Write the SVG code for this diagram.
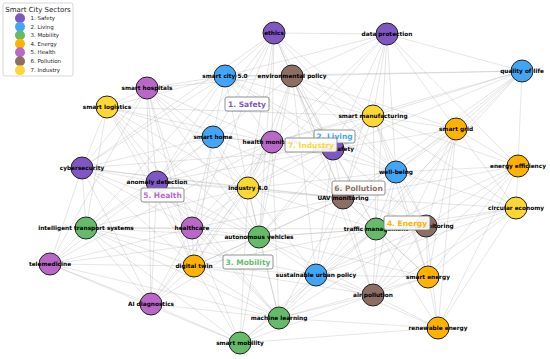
<svg xmlns="http://www.w3.org/2000/svg" width="550" height="359" viewBox="0 0 550 359">
<style>
.e{fill:none;stroke:#9a9a9a;stroke-opacity:0.35;stroke-width:0.7}
.n{stroke:#222;stroke-width:1}
.lb{font-family:"DejaVu Sans",sans-serif;font-weight:bold;font-size:5.8px;fill:#000;text-anchor:middle;dominant-baseline:central}
.s1{fill:#7E57C2}.s2{fill:#42A5F5}.s3{fill:#66BB6A}.s4{fill:#FFB300}.s5{fill:#BA68C8}.s6{fill:#8D6E63}.s7{fill:#FDD835}
.cb{fill:#fff;fill-opacity:0.92;stroke:#777;stroke-width:0.8}
.ct{font-family:"DejaVu Sans",sans-serif;font-weight:bold;font-size:7.5px;text-anchor:middle;dominant-baseline:central}
.lt{font-family:"DejaVu Sans",sans-serif;font-size:5.5px;fill:#222;dominant-baseline:central}
</style>
<rect width="550" height="359" fill="#fff"/>
<g id="connectors">
<path class="e" d="M274 33L387 34M274 33L225 76M274 33L292 76M274 33L213 137M274 33L272 142M274 33L333 149M274 33L248 188M274 33L343 198M274 33L396 172M274 33L373 116M274 33L157 182M274 33L82 168M274 33L259 237M274 33L192 228"/>
<path class="e" d="M387 34L522 71M387 34L373 116M387 34L292 76M387 34L225 76M387 34L333 149M387 34L396 172M387 34L518 166M387 34L343 198M387 34L376 229M387 34L272 142M387 34L456 129M387 34L248 188"/>
<path class="e" d="M522 71L292 76M522 71L373 116M522 71L456 129M522 71L396 172M522 71L518 166M522 71L333 149M522 71L376 229M522 71L343 198M522 71L225 76M522 71L272 142M522 71L316 275"/>
<path class="e" d="M225 76L292 76M225 76L147 88M225 76L107 107M225 76L213 137M225 76L272 142M225 76L333 149M225 76L157 182M225 76L248 188M225 76L82 168M225 76L373 116M225 76L396 172M225 76L86 228"/>
<path class="e" d="M292 76L147 88M292 76L373 116M292 76L456 129M292 76L213 137M292 76L272 142M292 76L333 149M292 76L343 198M292 76L396 172M292 76L373 295M292 76L376 229M292 76L248 188M292 76L259 237M292 76L316 275"/>
<path class="e" d="M147 88L107 107M147 88L213 137M147 88L272 142M147 88L192 228M147 88L157 182M147 88L151 304M147 88L50 264M147 88L82 168M147 88L248 188M147 88L194 266M147 88L259 237"/>
<path class="e" d="M107 107L213 137M107 107L82 168M107 107L157 182M107 107L248 188M107 107L86 228M107 107L272 142M107 107L259 237M107 107L194 266M107 107L373 116M107 107L279 318"/>
<path class="e" d="M373 116L456 129M373 116L333 149M373 116L396 172M373 116L248 188M373 116L343 198M373 116L272 142M373 116L376 229M373 116L518 166M373 116L516 208M373 116L426 226M373 116L259 237M373 116L428 277"/>
<path class="e" d="M456 129L396 172M456 129L518 166M456 129L516 208M456 129L428 277M456 129L438 328M456 129L376 229M456 129L426 226M456 129L333 149M456 129L343 198M456 129L373 295"/>
<path class="e" d="M213 137L272 142M213 137L82 168M213 137L157 182M213 137L248 188M213 137L259 237M213 137L192 228M213 137L86 228M213 137L333 149M213 137L194 266M213 137L343 198"/>
<path class="e" d="M272 142L333 149M272 142L157 182M272 142L248 188M272 142L192 228M272 142L151 304M272 142L50 264M272 142L343 198M272 142L259 237M272 142L194 266M272 142L396 172M272 142L279 318"/>
<path class="e" d="M333 149L396 172M333 149L343 198M333 149L248 188M333 149L376 229M333 149L157 182M333 149L259 237M333 149L82 168M333 149L426 226M333 149L316 275"/>
<path class="e" d="M82 168L157 182M82 168L86 228M82 168L50 264M82 168L192 228M82 168L151 304M82 168L248 188M82 168L259 237M82 168L194 266M82 168L343 198"/>
<path class="e" d="M396 172L518 166M396 172L343 198M396 172L376 229M396 172L426 226M396 172L516 208M396 172L428 277M396 172L316 275M396 172L373 295M396 172L248 188"/>
<path class="e" d="M518 166L516 208M518 166L428 277M518 166L438 328M518 166L376 229M518 166L426 226M518 166L343 198M518 166L373 295"/>
<path class="e" d="M157 182L248 188M157 182L192 228M157 182L86 228M157 182L50 264M157 182L151 304M157 182L259 237M157 182L194 266M157 182L343 198M157 182L279 318"/>
<path class="e" d="M248 188L343 198M248 188L192 228M248 188L259 237M248 188L194 266M248 188L376 229M248 188L316 275M248 188L279 318M248 188L86 228M248 188L151 304M248 188L240 343"/>
<path class="e" d="M343 198L376 229M343 198L426 226M343 198L259 237M343 198L316 275M343 198L373 295M343 198L279 318M343 198L428 277M343 198L516 208M343 198L194 266M343 198L192 228"/>
<path class="e" d="M516 208L376 229M516 208L426 226M516 208L428 277M516 208L438 328M516 208L373 295M516 208L316 275"/>
<path class="e" d="M86 228L192 228M86 228L50 264M86 228L194 266M86 228L151 304M86 228L259 237M86 228L279 318M86 228L240 343M86 228L376 229M86 228L316 275"/>
<path class="e" d="M192 228L50 264M192 228L151 304M192 228L194 266M192 228L259 237M192 228L279 318M192 228L240 343"/>
<path class="e" d="M376 229L426 226M376 229L259 237M376 229L316 275M376 229L428 277M376 229L373 295M376 229L438 328M376 229L279 318M376 229L240 343M376 229L194 266"/>
<path class="e" d="M426 226L428 277M426 226L373 295M426 226L438 328M426 226L316 275M426 226L259 237M426 226L279 318"/>
<path class="e" d="M259 237L194 266M259 237L316 275M259 237L279 318M259 237L240 343M259 237L151 304M259 237L428 277M259 237L373 295M259 237L50 264"/>
<path class="e" d="M50 264L151 304M50 264L194 266M50 264L279 318M50 264L240 343"/>
<path class="e" d="M194 266L151 304M194 266L279 318M194 266L240 343M194 266L316 275M194 266L373 295"/>
<path class="e" d="M316 275L373 295M316 275L279 318M316 275L240 343M316 275L428 277M316 275L438 328"/>
<path class="e" d="M428 277L438 328M428 277L373 295M428 277L279 318"/>
<path class="e" d="M373 295L438 328M373 295L279 318M373 295L240 343"/>
<path class="e" d="M151 304L279 318M151 304L240 343"/>
<path class="e" d="M279 318L240 343M279 318L438 328M240 343L438 328"/>
</g>
<g id="nodes">
<g id="n-ethics"><circle class="n s1" cx="274" cy="33" r="11"/><text class="lb" x="274" y="33">ethics</text></g>
<g id="n-data-protection"><circle class="n s1" cx="387" cy="34" r="11"/><text class="lb" x="387" y="34">data protection</text></g>
<g id="n-quality-of-life"><circle class="n s2" cx="522" cy="71" r="11"/><text class="lb" x="522" y="71">quality of life</text></g>
<g id="n-smart-city-5"><circle class="n s2" cx="225" cy="76" r="11"/><text class="lb" x="225" y="76">smart city 5.0</text></g>
<g id="n-environmental-policy"><circle class="n s6" cx="292" cy="76" r="11"/><text class="lb" x="292" y="76">environmental policy</text></g>
<g id="n-smart-hospitals"><circle class="n s5" cx="147" cy="88" r="11"/><text class="lb" x="147" y="88">smart hospitals</text></g>
<g id="n-smart-logistics"><circle class="n s7" cx="107" cy="107" r="11"/><text class="lb" x="107" y="107">smart logistics</text></g>
<g id="n-smart-manufacturing"><circle class="n s7" cx="373" cy="116" r="11"/><text class="lb" x="373" y="116">smart manufacturing</text></g>
<g id="n-smart-grid"><circle class="n s4" cx="456" cy="129" r="11"/><text class="lb" x="456" y="129">smart grid</text></g>
<g id="n-smart-home"><circle class="n s2" cx="213" cy="137" r="11"/><text class="lb" x="213" y="137">smart home</text></g>
<g id="n-health-monitoring"><circle class="n s5" cx="272" cy="142" r="11"/><text class="lb" x="272" y="142">health monitoring</text></g>
<g id="n-public-safety"><circle class="n s1" cx="333" cy="149" r="11"/><text class="lb" x="333" y="149">public safety</text></g>
<g id="n-cybersecurity"><circle class="n s1" cx="82" cy="168" r="11"/><text class="lb" x="82" y="168">cybersecurity</text></g>
<g id="n-well-being"><circle class="n s2" cx="396" cy="172" r="11"/><text class="lb" x="396" y="172">well-being</text></g>
<g id="n-energy-efficiency"><circle class="n s4" cx="518" cy="166" r="11"/><text class="lb" x="518" y="166">energy efficiency</text></g>
<g id="n-anomaly-detection"><circle class="n s1" cx="157" cy="182" r="11"/><text class="lb" x="157" y="182">anomaly detection</text></g>
<g id="n-industry-4"><circle class="n s7" cx="248" cy="188" r="11"/><text class="lb" x="248" y="188">industry 4.0</text></g>
<g id="n-uav-monitoring"><circle class="n s6" cx="343" cy="198" r="11"/><text class="lb" x="343" y="198">UAV monitoring</text></g>
<g id="n-circular-economy"><circle class="n s7" cx="516" cy="208" r="11"/><text class="lb" x="516" y="208">circular economy</text></g>
<g id="n-its"><circle class="n s3" cx="86" cy="228" r="11"/><text class="lb" x="86" y="228">intelligent transport systems</text></g>
<g id="n-healthcare"><circle class="n s5" cx="192" cy="228" r="11"/><text class="lb" x="192" y="228">healthcare</text></g>
<g id="n-traffic-management"><circle class="n s3" cx="376" cy="229" r="11"/><text class="lb" x="376" y="229">traffic management</text></g>
<g id="n-noise-monitoring"><circle class="n s6" cx="426" cy="226" r="11"/><text class="lb" x="426" y="226">noise monitoring</text></g>
<g id="n-autonomous-vehicles"><circle class="n s3" cx="259" cy="237" r="11"/><text class="lb" x="259" y="237">autonomous vehicles</text></g>
<g id="n-telemedicine"><circle class="n s5" cx="50" cy="264" r="11"/><text class="lb" x="50" y="264">telemedicine</text></g>
<g id="n-digital-twin"><circle class="n s4" cx="194" cy="266" r="11"/><text class="lb" x="194" y="266">digital twin</text></g>
<g id="n-sustainable-urban-policy"><circle class="n s2" cx="316" cy="275" r="11"/><text class="lb" x="316" y="275">sustainable urban policy</text></g>
<g id="n-smart-energy"><circle class="n s4" cx="428" cy="277" r="11"/><text class="lb" x="428" y="277">smart energy</text></g>
<g id="n-air-pollution"><circle class="n s6" cx="373" cy="295" r="11"/><text class="lb" x="373" y="295">air pollution</text></g>
<g id="n-ai-diagnostics"><circle class="n s5" cx="151" cy="304" r="11"/><text class="lb" x="151" y="304">AI diagnostics</text></g>
<g id="n-machine-learning"><circle class="n s3" cx="279" cy="318" r="11"/><text class="lb" x="279" y="318">machine learning</text></g>
<g id="n-renewable-energy"><circle class="n s4" cx="438" cy="328" r="11"/><text class="lb" x="438" y="328">renewable energy</text></g>
<g id="n-smart-mobility"><circle class="n s3" cx="240" cy="343" r="11"/><text class="lb" x="240" y="343">smart mobility</text></g>
</g>
<g id="sector-labels">
<g id="c1"><rect class="cb" x="225" y="97" width="44" height="14" rx="2"/><text class="ct s1" x="247" y="104">1. Safety</text></g>
<g id="c2"><rect class="cb" x="314" y="130" width="41" height="13" rx="2"/><text class="ct s2" x="334.5" y="136.5">2. Living</text></g>
<g id="c7"><rect class="cb" x="285" y="138" width="52" height="14" rx="2"/><text class="ct s7" x="311" y="145">7. Industry</text></g>
<g id="c6"><rect class="cb" x="332" y="181" width="53" height="14" rx="2"/><text class="ct s6" x="358.5" y="188">6. Pollution</text></g>
<g id="c4"><rect class="cb" x="384" y="216" width="46" height="14" rx="2"/><text class="ct s4" x="407" y="223">4. Energy</text></g>
<g id="c5"><rect class="cb" x="141" y="188" width="43" height="14" rx="2"/><text class="ct s5" x="162.5" y="195">5. Health</text></g>
<g id="c3"><rect class="cb" x="223" y="255" width="50" height="14" rx="2"/><text class="ct s3" x="248" y="262">3. Mobility</text></g>
</g>
<g id="legend">
<rect x="3" y="3" width="70" height="73" rx="2" fill="#fff" fill-opacity="0.9" stroke="#ccc" stroke-width="0.8"/>
<text x="38" y="9.5" font-family="DejaVu Sans, sans-serif" font-size="7" fill="#222" text-anchor="middle" dominant-baseline="central">Smart City Sectors</text>
<circle class="s1" cx="20" cy="18.3" r="5"/><text class="lt" x="30.5" y="18.3">1. Safety</text>
<circle class="s2" cx="20" cy="26.8" r="5"/><text class="lt" x="30.5" y="26.8">2. Living</text>
<circle class="s3" cx="20" cy="35.3" r="5"/><text class="lt" x="30.5" y="35.3">3. Mobility</text>
<circle class="s4" cx="20" cy="43.8" r="5"/><text class="lt" x="30.5" y="43.8">4. Energy</text>
<circle class="s5" cx="20" cy="52.3" r="5"/><text class="lt" x="30.5" y="52.3">5. Health</text>
<circle class="s6" cx="20" cy="61.3" r="5"/><text class="lt" x="30.5" y="61.3">6. Pollution</text>
<circle class="s7" cx="20" cy="70.3" r="5"/><text class="lt" x="30.5" y="70.3">7. Industry</text>
</g>
</svg>
